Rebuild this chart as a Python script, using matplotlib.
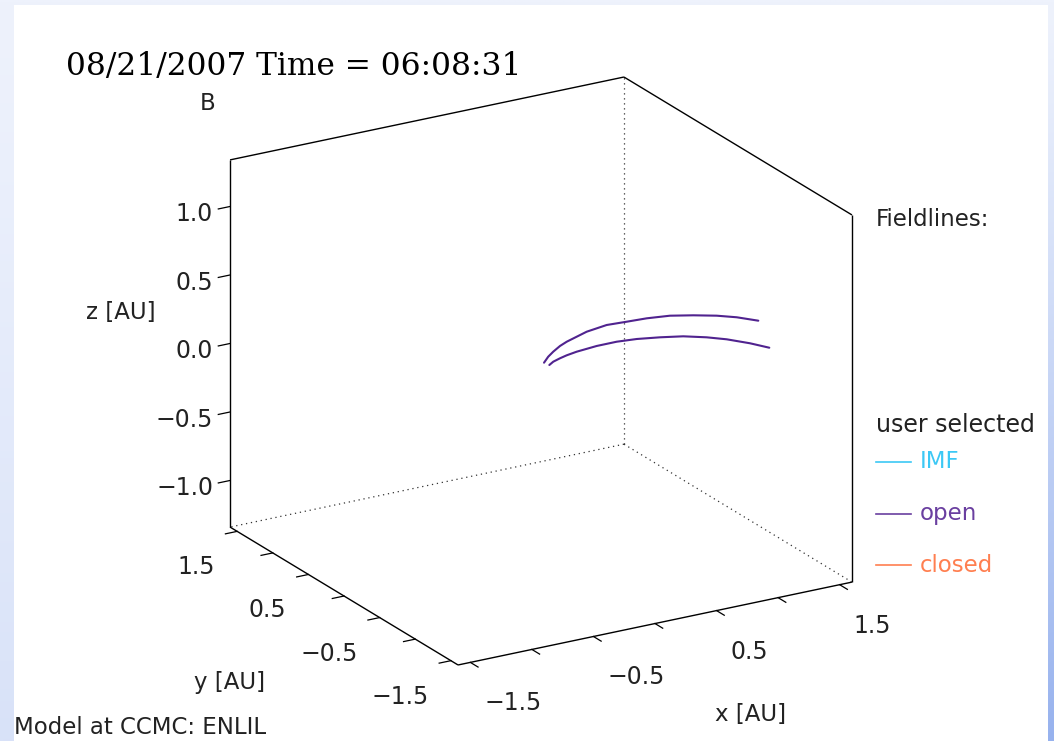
import numpy as np
import matplotlib
matplotlib.use("Agg")
import matplotlib.pyplot as plt
from matplotlib.colors import to_rgb

plt.rcParams['font.family'] = ['DejaVu Sans']
plt.rcParams['axes.unicode_minus'] = True

W, H = 1054, 741

# ---------------- data ----------------
title = "08/21/2007 Time = 06:08:31"
quantity = "B"
footer = "Model at CCMC: ENLIL"
x_title, y_title, z_title = "x [AU]", "y [AU]", "z [AU]"

x_range = [-1.6, 1.6]
y_range = [-1.6, 1.6]
z_range = [-1.34, 1.34]

x_ticks = [-1.5, -1.0, -0.5, 0.0, 0.5, 1.0, 1.5]
y_ticks = [-1.5, -1.0, -0.5, 0.0, 0.5, 1.0, 1.5]
z_ticks = [-1.0, -0.5, 0.0, 0.5, 1.0]
x_labels = [-1.5, -0.5, 0.5, 1.5]
y_labels = [1.5, 0.5, -0.5, -1.5]
z_labels = [1.0, 0.5, 0.0, -0.5, -1.0]

# fieldlines (AU, ecliptic plane assumed)
line1_x = [0.101, 0.186, 0.266, 0.364, 0.447, 0.667, 0.854, 1.008, 1.162, 1.328, 1.473, 1.610, 1.715, 1.811]
line1_y = [0.132, 0.220, 0.288, 0.362, 0.411, 0.511, 0.554, 0.538, 0.524, 0.485, 0.407, 0.316, 0.216, 0.079]
line1_z = [0.0] * 14
line2_x = [0.110, 0.167, 0.241, 0.311, 0.407, 0.585, 0.748, 0.896, 1.053, 1.203, 1.334, 1.435, 1.536, 1.608]
line2_y = [0.073, 0.116, 0.150, 0.177, 0.203, 0.229, 0.230, 0.204, 0.149, 0.082, -0.020, -0.127, -0.280, -0.426]
line2_z = [0.0] * 14

legend_header = "Fieldlines:"
legend_sub = "user selected"
legend_names = ["IMF", "open", "closed"]
legend_colors = ["#3cc8f5", "#6a3fa0", "#ff7f50"]
fieldline_color = "#50238f"

# ---------------- view (projection) ----------------
O = np.array([541.0, 371.0])
EX = np.array([123.1, -25.9])
EY = np.array([-71.25, -43.1])
EZ = np.array([0.0, -137.0])


def proj(x, y, z):
    x = np.asarray(x, float); y = np.asarray(y, float); z = np.asarray(z, float)
    u = O[0] + x * EX[0] + y * EY[0] + z * EZ[0]
    v = O[1] + x * EX[1] + y * EY[1] + z * EZ[1]
    return u, v


fig = plt.figure(figsize=(W / 100, H / 100), dpi=100)
ax = fig.add_axes([0, 0, 1, 1])
ax.set_xlim(0, W)
ax.set_ylim(H, 0)
ax.axis('off')

# background gradient + white panel
uu, vv = np.meshgrid(np.linspace(0, 1, 200), np.linspace(0, 1, 200))
light = np.array(to_rgb("#eef2fc"))
blue = np.array(to_rgb("#97b2ee"))
t = (vv ** 1.2) * (0.25 + 0.75 * uu ** 3)
img = light[None, None, :] * (1 - t[..., None]) + blue[None, None, :] * t[..., None]
ax.imshow(img, extent=[0, W, H, 0], aspect='auto', zorder=0, interpolation='bilinear')
ax.add_patch(plt.Rectangle((14, 5), 1034, 740, facecolor='white', edgecolor='none', zorder=1))

x0, x1 = x_range
y0, y1 = y_range
z0, z1 = z_range

solid_edges = [
    ((x0, y1, z0), (x0, y1, z1)),
    ((x0, y1, z1), (x1, y1, z1)),
    ((x1, y1, z1), (x1, y0, z1)),
    ((x1, y0, z1), (x1, y0, z0)),
    ((x0, y1, z0), (x0, y0, z0)),
    ((x0, y0, z0), (x1, y0, z0)),
]
dotted_edges = [
    ((x1, y1, z0), (x1, y1, z1)),
    ((x1, y1, z0), (x0, y1, z0)),
    ((x1, y1, z0), (x1, y0, z0)),
]
for a, b in solid_edges:
    u, v = proj([a[0], b[0]], [a[1], b[1]], [a[2], b[2]])
    ax.plot(u, v, color='black', lw=1.0, zorder=3, solid_capstyle='butt')
for a, b in dotted_edges:
    u, v = proj([a[0], b[0]], [a[1], b[1]], [a[2], b[2]])
    ax.plot(u, v, color='#333333', lw=0.9, ls=(0, (1, 3)), zorder=3)

dex = -EX / np.linalg.norm(EX)
dey = -EY / np.linalg.norm(EY)

fs = 16.5
tcol = '#222222'
tick_kw = dict(color='black', lw=0.9, zorder=3)
# x ticks
for xt in x_ticks:
    u, v = proj(xt, y0, z0)
    ax.plot([u, u + 9 * dey[0]], [v, v + 9 * dey[1]], **tick_kw)
for xl in x_labels:
    u, v = proj(xl, y0, z0)
    ax.text(u + 14, v + 41, f"{xl:.1f}".replace('-', '\u2212'), ha='left', va='center',
            fontsize=fs + 0.5, color=tcol, zorder=4)
# y ticks
for yt in y_ticks:
    u, v = proj(x0, yt, z0)
    ax.plot([u, u + 12 * dex[0]], [v, v + 12 * dex[1]], **tick_kw)
for yl in y_labels:
    u, v = proj(x0, yl, z0)
    ax.text(u - 22, v + 36, f"{yl:.1f}".replace('-', '\u2212'), ha='right', va='center',
            fontsize=fs + 0.5, color=tcol, zorder=4)
# z ticks
for zt in z_ticks:
    u, v = proj(x0, y1, zt)
    ax.plot([u, u + 12 * dex[0]], [v, v + 12 * dex[1]], **tick_kw)
for zl in z_labels:
    u, v = proj(x0, y1, zl)
    ax.text(u - 17, v + 8, f"{zl:.1f}".replace('-', '\u2212'), ha='right', va='center',
            fontsize=fs + 0.5, color=tcol, zorder=4)

# axis titles
ax.text(121, 312, z_title, ha='center', va='center', fontsize=fs, color=tcol, zorder=4)
ax.text(230, 682, y_title, ha='center', va='center', fontsize=fs, color=tcol, zorder=4)
ax.text(751, 714, x_title, ha='center', va='center', fontsize=fs, color=tcol, zorder=4)

# fieldlines
for lx, ly, lz in [(line1_x, line1_y, line1_z), (line2_x, line2_y, line2_z)]:
    u, v = proj(lx, ly, lz)
    ax.plot(u, v, color=fieldline_color, lw=1.5, zorder=5, solid_joinstyle='round',
            solid_capstyle='round')

# title and annotations
ax.text(66, 75, title, ha='left', va='baseline', fontsize=22.5, family='DejaVu Serif',
        color='black', zorder=4)
ax.text(208, 103, quantity, ha='center', va='center', fontsize=fs, color=tcol, zorder=4)
ax.text(14, 727, footer, ha='left', va='center', fontsize=fs, color=tcol, zorder=4)

# legend
ax.text(876, 220, legend_header, ha='left', va='center', fontsize=fs, color=tcol, zorder=4)
ax.text(876, 425, legend_sub, ha='left', va='center', fontsize=fs + 0.5, color=tcol, zorder=4)
for i, (name, col) in enumerate(zip(legend_names, legend_colors)):
    yy = 462 + i * 51.5
    ax.plot([876, 911], [yy, yy], color=col, lw=1.2, zorder=4)
    ax.text(920, yy, name, ha='left', va='center', fontsize=fs, color=col, zorder=4)

fig.savefig("out.png", dpi=100)
